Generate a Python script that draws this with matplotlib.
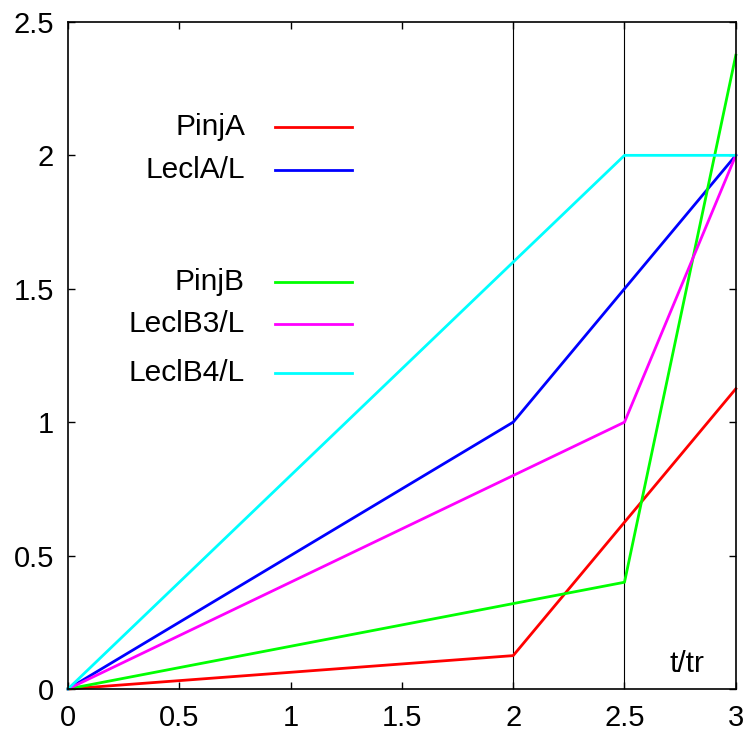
import matplotlib.pyplot as plt

# Données (t/tr en abscisse)
labels = ["PinjA", "LeclA/L", "PinjB", "LeclB3/L", "LeclB4/L"]
colors = ["#ff0000", "#0000ff", "#00ff00", "#ff00ff", "#00ffff"]

pinjA_x = [0, 2, 3]
pinjA_y = [0, 0.125, 1.125]

leclA_x = [0, 2, 3]
leclA_y = [0, 1, 2]

pinjB_x = [0, 2.5, 3]
pinjB_y = [0, 0.4, 2.375]

leclB3_x = [0, 2, 2.5, 3]
leclB3_y = [0, 0.8, 1, 2]

leclB4_x = [0, 2.5, 3]
leclB4_y = [0, 2, 2]

vlines_x = [2, 2.5]

xticks = [0, 0.5, 1, 1.5, 2, 2.5, 3]
xticklabels = ["0", "0.5", "1", "1.5", "2", "2.5", "3"]
yticks = [0, 0.5, 1, 1.5, 2, 2.5]
yticklabels = ["0", "0.5", "1", "1.5", "2", "2.5"]

series = [
    (pinjA_x, pinjA_y),
    (leclA_x, leclA_y),
    (pinjB_x, pinjB_y),
    (leclB3_x, leclB3_y),
    (leclB4_x, leclB4_y),
]

plt.rcParams["font.family"] = ["Liberation Sans", "DejaVu Sans"]

fig = plt.figure(figsize=(7.47, 7.31), dpi=100)
ax = fig.add_axes([0.091, 0.0575, 0.894, 0.9125])

for x in vlines_x:
    ax.axvline(x, color="black", lw=0.8, zorder=1)

# position des entrées de légende (fraction des axes)
leg_y = [0.843, 0.778, 0.610, 0.547, 0.474]
for (xs, ys), lab, c, ly in zip(series, labels, colors, leg_y):
    ax.plot(xs, ys, color=c, lw=2, zorder=2, clip_on=False)
    ax.plot([0.31, 0.425], [ly, ly], color=c, lw=2, transform=ax.transAxes)
    ax.text(0.265, ly, lab, transform=ax.transAxes, ha="right", va="center",
            fontsize=21.5)

ax.text(0.927, 0.038, "t/tr", transform=ax.transAxes, ha="center",
        va="center", fontsize=21.5)

ax.set_xlim(0, 3)
ax.set_ylim(0, 2.5)
ax.set_xticks(xticks)
ax.set_xticklabels(xticklabels)
ax.set_yticks(yticks)
ax.set_yticklabels(yticklabels)
ax.tick_params(direction="in", length=5, width=1, labelsize=21,
               top=True, right=True, pad=10)
ax.tick_params(axis="x", pad=11)
for s in ax.spines.values():
    s.set_linewidth(1.2)

fig.savefig("out.png", dpi=100)
